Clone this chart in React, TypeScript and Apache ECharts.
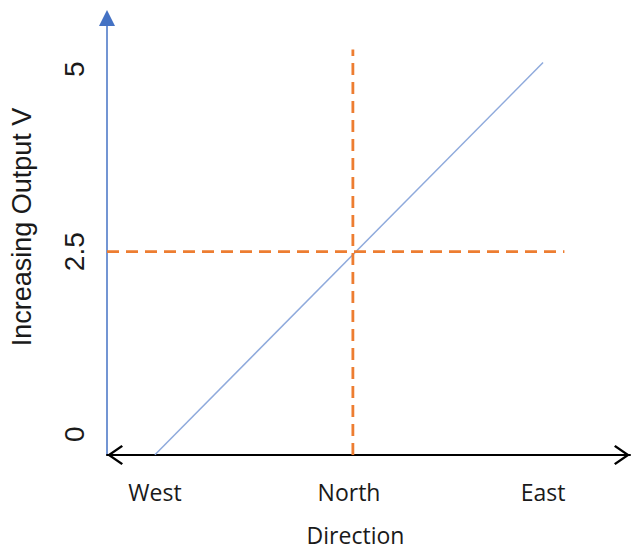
import React, { useEffect, useRef } from "react";
import * as echarts from "echarts";

// ---- data ----
const xCategories = ["West", "North", "East"];
const xPositions = [0, 1, 2];
const yTickValues = [0, 2.5, 5];
const outputLineX = [0, 2];
const outputLineY = [-0.28, 5.09];
const levelLineX = [-0.247, 2.11];
const levelLineY = [2.5, 2.5];
const northLineX = [1.02, 1.02];
const northLineY = [-0.284, 5.27];
const xRange = [-0.247, 2.448];
const yRange = [-0.284, 5.7];

const zip = (xs: number[], ys: number[]) => xs.map((x, i) => [x, ys[i]]);

const chevron = "path://M10,0 L20,14.5 L18.3,16 L10,4 L1.7,16 L0,14.5 Z";

export default function App() {
  const ref = useRef<HTMLDivElement>(null);
  useEffect(() => {
    if (!ref.current) return;
    const chart = echarts.init(ref.current, null, { renderer: "svg" });
    chart.setOption({
      animation: false,
      backgroundColor: "#ffffff",
      grid: { left: 107, right: 2, top: 18, bottom: 90 },
      xAxis: {
        type: "value",
        min: xRange[0],
        max: xRange[1],
        name: "Direction",
        nameLocation: "middle",
        nameGap: 68,
        nameTextStyle: {
          fontFamily: "Open Sans",
          fontSize: 23,
          color: "#1a1a1a",
          padding: [0, 26, 0, 0],
        },
        axisLine: {
          onZero: false,
          lineStyle: { color: "#000000", width: 2 },
          symbol: [chevron, chevron],
          symbolSize: [20, 16],
          symbolOffset: [8, -8],
        },
        axisTick: { show: false },
        splitLine: { show: false },
        axisLabel: {
          customValues: xPositions,
          formatter: (v: number) => xCategories[Math.round(v)] ?? "",
          margin: 25,
          fontFamily: "Open Sans",
          fontSize: 23,
          color: "#1a1a1a",
        },
      },
      yAxis: {
        type: "value",
        min: yRange[0],
        max: yRange[1],
        name: "Increasing Output V",
        nameLocation: "middle",
        nameGap: 72,
        nameTextStyle: {
          fontFamily: "Liberation Sans",
          fontSize: 27,
          color: "#1a1a1a",
          padding: [0, 0, 0, 19],
        },
        axisLine: {
          onZero: false,
          lineStyle: { color: "#4472C4", width: 1.5 },
          symbol: ["none", "triangle"],
          symbolSize: [16, 16],
        },
        axisTick: { show: false },
        splitLine: { show: false },
        axisLabel: {
          customValues: yTickValues,
          rotate: 90,
          margin: 19,
          fontFamily: "Liberation Sans",
          fontSize: 28,
          color: "#1a1a1a",
          formatter: (v: number) => String(v),
        },
      },
      series: [
        {
          type: "line",
          data: zip(outputLineX, outputLineY),
          showSymbol: false,
          symbol: "none",
          lineStyle: { color: "#8FAADC", width: 1.5 },
          z: 2,
        },
        {
          type: "line",
          data: zip(levelLineX, levelLineY),
          showSymbol: false,
          symbol: "none",
          lineStyle: { color: "#ED7D31", width: 2.8, type: [12, 7] },
          z: 3,
        },
        {
          type: "line",
          data: zip(northLineX, northLineY),
          showSymbol: false,
          symbol: "none",
          lineStyle: { color: "#ED7D31", width: 2.8, type: [12, 7] },
          z: 3,
        },
      ],
    });
    return () => chart.dispose();
  }, []);
  return (
    <div
      ref={ref}
      style={{ position: "fixed", left: 0, top: 0, width: 632, height: 551 }}
    />
  );
}
